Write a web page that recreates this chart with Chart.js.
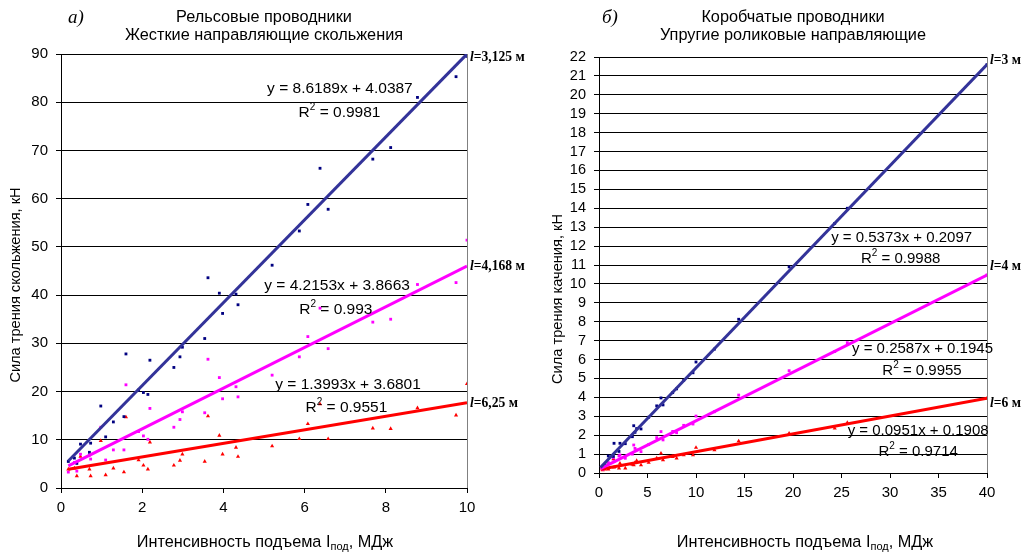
<!DOCTYPE html>
<html><head><meta charset="utf-8">
<script src="https://cdn.jsdelivr.net/npm/chart.js@4"></script>
<style>
html,body{margin:0;padding:0;background:#fff;}
#wrap{position:relative;width:1026px;height:554px;overflow:hidden;background:#fff;}
canvas{position:absolute;top:0;}
#c1{left:0;width:545px;height:554px;}
#c2{left:530px;width:496px;height:554px;}
</style></head><body>
<div id="wrap">
<canvas id="c1" width="545" height="554"></canvas>
<canvas id="c2" width="496" height="554"></canvas>
</div>
<script>
// ---------- DATA: left panel (а) ----------
const leftX = [0.18,0.33,0.39,0.48,0.70,0.73,0.98,1.10,1.29,1.55,1.60,1.91,2.03,2.14,2.19,2.78,2.93,2.99,3.54,3.62,3.90,3.98,4.31,4.36,5.20,5.87,6.08,6.38,6.58,7.68,8.12,8.78,9.73,10.0];
const leftBlue = [5.5,6.2,5.1,9.1,7.4,9.3,17.0,10.6,13.7,14.8,27.8,20.3,19.8,19.4,26.5,25.0,27.2,29.2,31.0,43.6,40.4,36.2,40.2,38.0,46.2,53.3,58.8,66.3,57.8,68.2,70.6,81.0,85.3,89.5];
const leftMagenta = [3.3,5.3,3.5,7.0,6.8,6.0,12.6,5.8,7.9,7.9,21.4,11.7,10.8,10.1,16.5,12.6,14.2,15.8,15.6,26.7,22.9,18.5,21.0,18.9,23.4,27.2,31.4,37.3,28.9,34.4,35.0,42.2,42.6,51.4];
const leftRed = [3.9,4.1,2.5,6.5,3.9,2.5,9.8,2.7,4.1,3.3,14.7,5.8,4.7,3.9,9.5,4.7,5.7,7.0,5.5,14.9,10.9,7.0,8.4,6.5,8.7,10.2,13.3,17.4,10.2,12.4,12.3,16.6,15.1,21.6];
const leftTrendX = [0.18, 10];
const leftTrendBlue = [5.6, 90.0];
const leftTrendMagenta = [4.6, 46.0];
const leftTrendRed = [3.9, 17.7];
const leftEquations = ['y = 8.6189x + 4.0387','y = 4.2153x + 3.8663','y = 1.3993x + 3.6801'];
const leftR2 = ['0.9981','0.993','0.9551'];
const leftLengths = ['3,125 м','4,168 м','6,25 м'];

// ---------- DATA: right panel (б) ----------
const rightX = [0.38,0.6,0.96,1.48,1.55,2.06,2.16,2.71,3.44,3.58,3.71,3.88,4.33,5.12,5.95,6.39,6.6,7.6,8.0,8.73,9.69,10.0,11.9,14.4,19.6,24.3,25.6,40];
const rightBlue = [0.33,0.45,0.9,0.88,1.57,1.14,1.57,1.55,1.92,2.5,2.15,2.35,2.33,2.95,3.55,3.97,3.6,4.25,4.45,4.9,5.3,5.87,6.55,8.13,10.9,13.2,14.0,21.6];
const rightMagenta = [0.2,0.3,0.55,0.81,0.6,0.9,0.95,0.78,1.0,1.48,1.3,1.22,1.13,1.5,1.87,2.19,1.75,2.2,2.13,2.52,2.59,3.01,3.24,4.12,5.41,6.42,6.89,10.47];
const rightRed = [0.15,0.2,0.2,0.74,0.3,0.25,0.51,0.25,0.45,0.42,0.55,0.65,0.42,0.55,0.78,1.04,0.69,0.86,0.78,0.95,0.95,1.34,1.22,1.69,2.10,2.36,2.66,3.95];
const rightTrendX = [0.15, 40];
const rightTrendBlue = [0.29, 21.6];
const rightTrendMagenta = [0.23, 10.47];
const rightTrendRed = [0.2, 3.95];
const rightEquations = ['y = 0.5373x + 0.2097','y = 0.2587x + 0.1945','y = 0.0951x + 0.1908'];
const rightR2 = ['0.9988','0.9955','0.9714'];
const rightLengths = ['3 м','4 м','6 м'];

// ---------- styling ----------
const SANS = '"Liberation Sans", Arial, sans-serif';
const SERIF = '"Liberation Serif", "Times New Roman", serif';
const C_BLUE_PT = '#000080', C_BLUE_LN = '#333399', C_MAG = '#ff00ff', C_RED = '#ff0000';

function pts(xs, ys){ return xs.map((x,i)=>({x:x, y:ys[i]})); }

function drawParts(ctx, parts, cx, cy, align){
  let w = 0;
  parts.forEach(p=>{ ctx.font = p.f; p.w = ctx.measureText(p.t).width; w += p.w; });
  let x = align === 'left' ? cx : cx - w/2;
  ctx.textBaseline = 'middle';
  ctx.textAlign = 'left';
  parts.forEach(p=>{ ctx.font = p.f; ctx.fillText(p.t, x, cy + (p.dy||0)); x += p.w; });
}

function makePlugin(ann){
  return {
    id: 'ann',
    afterDraw(chart){
      const ctx = chart.ctx, ca = chart.chartArea;
      const xs = chart.scales.x, ys = chart.scales.y;
      ctx.save();
      // right border of plot area
      ctx.strokeStyle = '#808080'; ctx.lineWidth = 1;
      ctx.beginPath(); ctx.moveTo(Math.round(ca.right)+0.5, ca.top); ctx.lineTo(Math.round(ca.right)+0.5, ca.bottom); ctx.stroke();
      ctx.fillStyle = '#000';
      // titles
      const tcx = (ca.left + ca.right)/2;
      ann.titles.forEach((t,i)=>{ drawParts(ctx, [{t:t, f:'16.3px '+SANS}], tcx, ann.titleY[i], 'center'); });
      // panel letter
      drawParts(ctx, [{t:ann.letter, f:'italic 19px '+SERIF}], ann.letterX, 18, 'left');
      // x axis title
      drawParts(ctx, [{t:'Интенсивность подъема I', f:'16.3px '+SANS},{t:'под', f:'11px '+SANS, dy:4},{t:', МДж', f:'16.3px '+SANS}], tcx + ann.xTitleDx, 543, 'center');
      // y axis title
      ctx.save();
      ctx.translate(ann.yTitleX, ann.yTitleY);
      ctx.rotate(-Math.PI/2);
      drawParts(ctx, [{t:ann.yTitle, f:'14.6px '+SANS}], 0, 0, 'center');
      ctx.restore();
      // equations
      ann.eq.forEach((e,i)=>{
        const p = ann.eqPos[i];
        drawParts(ctx, [{t:e, f:ann.eqFont+'px '+SANS}], xs.getPixelForValue(p[0]), ys.getPixelForValue(p[1]), 'center');
        const q = ann.r2Pos[i];
        drawParts(ctx, [{t:'R', f:ann.eqFont+'px '+SANS},{t:'2', f:'10px '+SANS, dy:-6},{t:' = '+ann.r2[i], f:ann.eqFont+'px '+SANS}], xs.getPixelForValue(q[0]), ys.getPixelForValue(q[1]), 'center');
      });
      // length labels
      ann.len.forEach((l,i)=>{
        drawParts(ctx, [{t:'l', f:'italic bold 13.6px '+SERIF},{t:'='+l, f:'bold 13.6px '+SERIF}], ca.right + 3, ys.getPixelForValue(ann.lenY[i]), 'left');
      });
      ctx.restore();
    }
  };
}

function makeChart(id, cfg){
  const ds = [
    {data: pts(cfg.tx, cfg.tb), showLine:true, borderColor:C_BLUE_LN, borderWidth:3, pointRadius:0, order:0},
    {data: pts(cfg.tx, cfg.tm), showLine:true, borderColor:C_MAG, borderWidth:3, pointRadius:0, order:0},
    {data: pts(cfg.tx, cfg.tr), showLine:true, borderColor:C_RED, borderWidth:3, pointRadius:0, order:0},
    {data: pts(cfg.x, cfg.b), pointStyle:'rect', pointRadius:2, pointBackgroundColor:C_BLUE_PT, pointBorderWidth:0, showLine:false, order:1},
    {data: pts(cfg.x, cfg.m), pointStyle:'rect', pointRadius:2, pointBackgroundColor:C_MAG, pointBorderWidth:0, showLine:false, order:1},
    {data: pts(cfg.x, cfg.r), pointStyle:'triangle', pointRadius:2.4, pointBackgroundColor:C_RED, pointBorderWidth:0, showLine:false, order:1}
  ];
  return new Chart(document.getElementById(id), {
    type:'scatter',
    data:{datasets:ds},
    options:{
      responsive:false, animation:false, devicePixelRatio:1,
      layout:{padding:{left:0, top:cfg.padTop, right:cfg.padRight, bottom:0}},
      plugins:{legend:{display:false}, tooltip:{enabled:false}, title:{display:false}},
      scales:{
        x:{type:'linear', min:cfg.xmin, max:cfg.xmax,
           ticks:{stepSize:cfg.xstep, color:'#000', font:{family:SANS, size:15}, padding:6, maxRotation:0},
           grid:{drawOnChartArea:false, drawTicks:true, tickLength:5, color:'#000'},
           border:{color:'#000', width:1},
           afterFit(s){ s.height = cfg.xHeight; }},
        y:{type:'linear', min:cfg.ymin, max:cfg.ymax,
           ticks:{stepSize:cfg.ystep, color:'#000', font:{family:SANS, size:cfg.yFont}, padding:8, autoSkip:false},
           grid:{drawOnChartArea:true, drawTicks:true, tickLength:5, color:'#000'},
           border:{color:'#000', width:1},
           afterFit(s){ s.width = cfg.yWidth; }}
      }
    },
    plugins:[makePlugin(cfg.ann)]
  });
}

makeChart('c1', {
  x:leftX, b:leftBlue, m:leftMagenta, r:leftRed,
  tx:leftTrendX, tb:leftTrendBlue, tm:leftTrendMagenta, tr:leftTrendRed,
  xmin:0, xmax:10, xstep:2, ymin:0, ymax:90, ystep:10, yFont:15,
  padTop:54, padRight:78, xHeight:66, yWidth:61,
  ann:{
    titles:['Рельсовые проводники','Жесткие направляющие скольжения'], titleY:[18,36],
    letter:'а)', letterX:68, xTitleDx:1, yTitle:'Сила трения скольжения, кН', yTitleX:16, yTitleY:285,
    eq:leftEquations, r2:leftR2, eqFont:15.5,
    eqPos:[[6.87,82.7],[6.80,41.9],[7.07,21.4]],
    r2Pos:[[6.86,77.8],[6.77,36.9],[7.03,16.6]],
    len:leftLengths, lenY:[89.2,46.0,17.6]
  }
});

makeChart('c2', {
  x:rightX, b:rightBlue, m:rightMagenta, r:rightRed,
  tx:rightTrendX, tb:rightTrendBlue, tm:rightTrendMagenta, tr:rightTrendRed,
  xmin:0, xmax:40, xstep:5, ymin:0, ymax:22, ystep:1, yFont:14.5,
  padTop:57, padRight:39, xHeight:81, yWidth:69,
  ann:{
    titles:['Коробчатые проводники','Упругие роликовые направляющие'], titleY:[18,36],
    letter:'б)', letterX:72, xTitleDx:12, yTitle:'Сила трения качения, кН', yTitleX:27.5, yTitleY:299,
    eq:rightEquations, r2:rightR2, eqFont:15,
    eqPos:[[31.2,12.43],[33.35,6.56],[32.9,2.22]],
    r2Pos:[[31.1,11.32],[33.3,5.39],[32.9,1.11]],
    len:rightLengths, lenY:[21.84,10.9,3.7]
  }
});
</script>
</body></html>
